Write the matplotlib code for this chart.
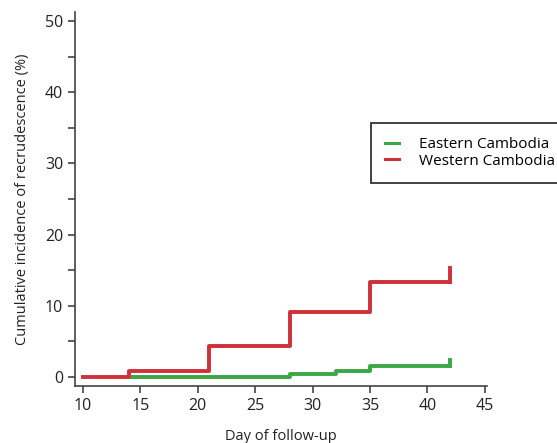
import matplotlib
matplotlib.use("Agg")
import matplotlib.pyplot as plt
from matplotlib.ticker import MultipleLocator

plt.rcParams['font.family'] = ['Open Sans', 'DejaVu Sans']

# step curves (day, cumulative %), drawn as post-steps
east_days = [14, 28, 32, 35, 42]
east_vals = [0.0, 0.4, 0.8, 1.5, 1.5]
east_end = 2.4
west_days = [10, 14, 21, 28, 35, 42]
west_vals = [0.0, 0.8, 4.3, 9.1, 13.3, 13.3]
west_end = 15.3

green = '#3aa845'
red = '#d0303a'

fig = plt.figure(figsize=(5.57, 4.43), dpi=100)
ax = fig.add_axes([0.1346, 0.1287, 0.74, 0.844])

ax.step(east_days, east_vals, where='post', color=green, lw=2.8, label='Eastern Cambodia')
ax.plot([east_days[-1], east_days[-1]], [east_vals[-1], east_end], color=green, lw=2.8)
ax.step(west_days, west_vals, where='post', color=red, lw=2.8, label='Western Cambodia')
ax.plot([west_days[-1], west_days[-1]], [west_vals[-1], west_end], color=red, lw=2.8)

ax.set_xlim(9.3, 45.2)
ax.set_ylim(-1.3, 51.3)
ax.set_xticks(range(10, 46, 5))
ax.set_yticks(range(0, 51, 10))
ax.yaxis.set_minor_locator(MultipleLocator(5))
for s in ['top', 'right']:
    ax.spines[s].set_visible(False)
for s in ['left', 'bottom']:
    ax.spines[s].set_color('#444444')
    ax.spines[s].set_linewidth(1.2)
ax.tick_params(which='both', direction='out', color='#444444', width=1.2, labelsize=11.5, labelcolor='#222222')
ax.tick_params(which='major', length=5)
ax.tick_params(which='minor', length=5)

ax.set_xlabel('Day of follow-up', fontsize=10.5, color='#222222', labelpad=11)
ax.set_ylabel('Cumulative incidence of recrudescence (%)', fontsize=10.5, color='#222222', labelpad=11)

leg = fig.legend(loc='upper left', bbox_to_anchor=(0.666, 0.723), fontsize=11,
                 frameon=True, fancybox=False, edgecolor='#000000', handlelength=0.9,
                 borderpad=0.95, labelspacing=0.1, handletextpad=1.3, borderaxespad=0)
leg.get_frame().set_linewidth(1.3)
for h in leg.get_lines():
    h.set_linewidth(2.2)

fig.savefig('out.png', dpi=100)
